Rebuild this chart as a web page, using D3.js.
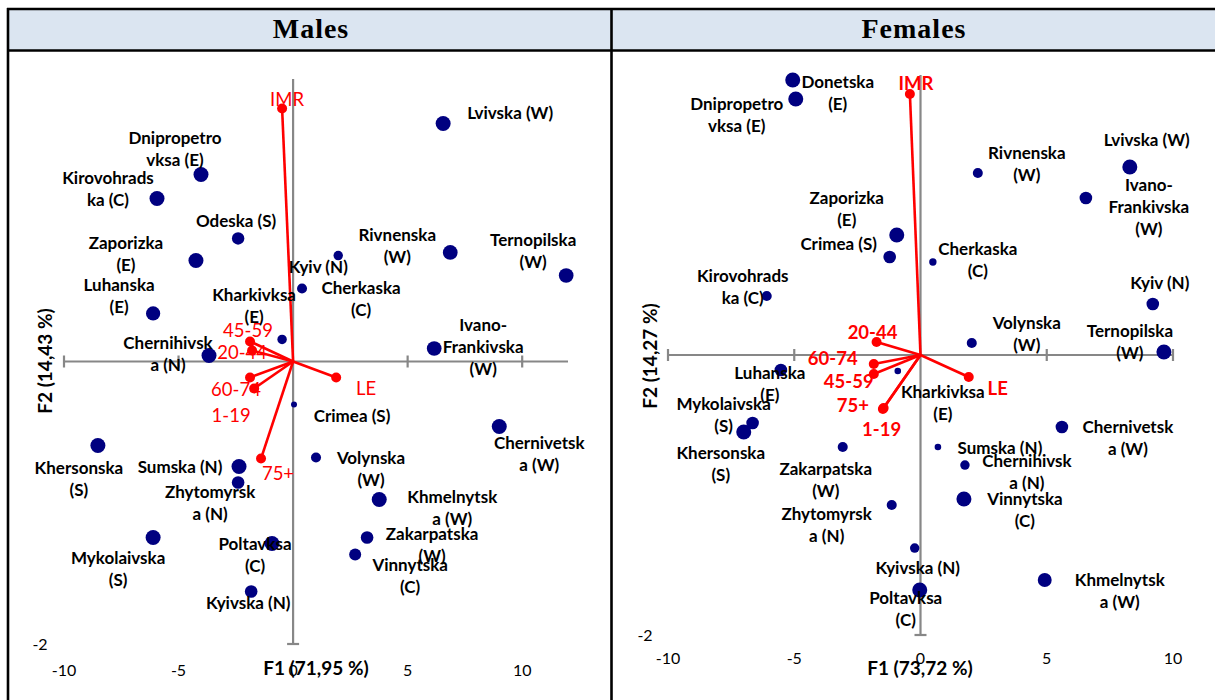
<!DOCTYPE html>
<html><head><meta charset="utf-8">
<script src="https://cdn.jsdelivr.net/npm/d3@7"></script>
<style>body{margin:0;background:#fff}svg{display:block}</style>
</head><body>
<svg id="chart" width="1215" height="700"></svg>
<script>
// ---------------- DATA ----------------
const panelTitles = ["Males", "Females"];
const f1Titles = ["F1 (71,95 %)", "F1 (73,72 %)"];
const f2Titles = ["F2 (14,43 %)", "F2 (14,27 %)"];
const xTickValues = [-10, -5, 0, 5, 10];
const yTickValues = [-2];

// Males – observations ("|" marks the line break of the label)
const maleRegions = ["Lvivska (W)", "Dnipropetro|vksa (E)", "Kirovohrads|ka (C)", "Odeska (S)", "Zaporizka|(E)",
  "Luhanska|(E)", "Kyiv (N)", "Cherkaska|(C)", "Rivnenska|(W)", "Ternopilska|(W)",
  "Kharkivksa|(E)", "Chernihivsk|a (N)", "Ivano-|Frankivska|(W)", "Crimea (S)", "Khersonska|(S)",
  "Sumska (N)", "Zhytomyrsk|a (N)", "Volynska|(W)", "Chernivetsk|a (W)", "Khmelnytsk|a (W)",
  "Zakarpatska|(W)", "Vinnytska|(C)", "Mykolaivska|(S)", "Poltavksa|(C)", "Kyivska (N)"];
const maleF1 = [6.55, -4.02, -5.94, -2.40, -4.24, -6.11, 1.97, 0.39, 6.86, 11.92,
  -0.48, -3.67, 6.16, 0.04, -8.52, -2.36, -2.40, 1.00, 9.00, 3.76,
  3.23, 2.71, -6.11, -0.92, -1.83];
const maleF2 = [1.685, 1.324, 1.154, 0.871, 0.715, 0.340, 0.750, 0.517, 0.772, 0.609,
  0.156, 0.042, 0.092, -0.304, -0.595, -0.743, -0.857, -0.680, -0.460, -0.977,
  -1.246, -1.366, -1.246, -1.288, -1.628];
const maleSize = [1, 1, 1, 0.83, 1, 0.95, 0.63, 0.67, 0.98, 0.98,
  0.63, 1, 0.98, 0.4, 1, 1, 0.84, 0.67, 1, 1,
  0.84, 0.8, 1, 1, 0.84];
// Males – variables (vectors)
const maleVars = ["IMR", "45-59", "20-44", "60-74", "1-19", "75+", "LE"];
const maleVarF1 = [-0.48, -1.88, -1.79, -1.88, -1.70, -1.40, 1.88];
const maleVarF2 = [1.791, 0.142, 0.078, -0.113, -0.191, -0.687, -0.113];

// Females – observations
const femaleRegions = ["Donetska|(E)", "Dnipropetro|vksa (E)", "Rivnenska|(W)", "Lvivska (W)", "Ivano-|Frankivska|(W)",
  "Zaporizka|(E)", "Crimea (S)", "Cherkaska|(C)", "Kyiv (N)", "Kirovohrads|ka (C)",
  "Ternopilska|(W)", "Volynska|(W)", "Luhanska|(E)", "Kharkivksa|(E)", "Mykolaivska|(S)",
  "Khersonska|(S)", "Zakarpatska|(W)", "Zhytomyrsk|a (N)", "Chernivetsk|a (W)", "Sumska (N)",
  "Chernihivsk|a (N)", "Vinnytska|(C)", "Kyivska (N)", "Poltavksa|(C)", "Khmelnytsk|a (W)"];
const femaleF1 = [-5.06, -4.94, 2.27, 8.29, 6.55, -0.94, -1.22, 0.49, 9.20, -6.09,
  9.64, 2.03, -5.53, -0.90, -6.65, -7.00, -3.08, -1.14, 5.60, 0.69,
  1.76, 1.72, -0.23, -0.03, 4.92];
const femaleF2 = [1.964, 1.829, 1.300, 1.343, 1.121, 0.857, 0.700, 0.664, 0.364, 0.421,
  0.021, 0.086, -0.107, -0.114, -0.486, -0.550, -0.657, -1.071, -0.514, -0.657,
  -0.786, -1.029, -1.379, -1.679, -1.607];
const femaleSize = [1, 1, 0.67, 1, 0.84, 1, 0.84, 0.49, 0.84, 0.67,
  1, 0.67, 0.84, 0.44, 0.84, 1, 0.67, 0.67, 0.84, 0.44,
  0.63, 1, 0.63, 1, 0.93];
// Females – variables (vectors)
const femaleVars = ["IMR", "20-44", "60-74", "45-59", "75+", "1-19", "LE"];
const femaleVarF1 = [-0.42, -1.74, -1.85, -1.85, -1.49, -1.46, 1.91];
const femaleVarF2 = [1.864, 0.093, -0.064, -0.136, -0.386, -0.379, -0.157];

// ---------------- LAYOUT (label offsets in px relative to the marker) ----------------
const maleLabelOffset = [[67,-10],[-26,-36],[-49,-20],[-2,-17],[-70,-17],[-34,-28],[-20,11],[59,0],[-53,-17],[-33,-35],
  [-28,-44],[-41,-13],[49,-23],[58,12],[-19,23],[-59,1],[-28,9],[55,0],[40,17],[73,-2],
  [65,-3],[55,11],[-35,21],[-17,1],[-3,12]];
const maleVarOffset = [[5,-9],[-2,-11],[-10,2],[-14,12],[-23,27],[17,15],[30,11]];
const femaleLabelOffset = [[45,2],[-59,5],[49,-20],[17,-27],[63,-13],[-50,-37],[-51,-13],[45,-13],[7,-21],[-24,-20],
  [-34,-21],[55,-20],[-11,3],[45,21],[-29,-19],[-23,21],[-17,22],[-65,9],[66,0],[62,1],
  [62,-4],[61,0],[3,20],[-14,8],[75,0]];
const femaleVarOffset = [[6,-11],[-4,-9],[-41,-5],[-25,7],[-30,-4],[-2,21],[29,12]];

// ---------------- DRAWING ----------------
const svg = d3.select("#chart");
const FONT = "Lato, 'Open Sans', sans-serif";

// table frame
svg.append("rect").attr("x", 8).attr("y", 9).attr("width", 1207).attr("height", 41.5).attr("fill", "#dbe5f1");
const frame = svg.append("g").attr("stroke", "#000").attr("stroke-width", 2.6);
frame.append("line").attr("x1", 7).attr("x2", 1215).attr("y1", 9).attr("y2", 9);
frame.append("line").attr("x1", 7).attr("x2", 1215).attr("y1", 50.5).attr("y2", 50.5);
frame.append("line").attr("x1", 8).attr("x2", 8).attr("y1", 8).attr("y2", 700);
frame.append("line").attr("x1", 611.5).attr("x2", 611.5).attr("y1", 8).attr("y2", 700);

const panels = [
  { title: panelTitles[0], titleX: 311, xDom: [-10, 12], xRange: [64, 568], yRange: [644, 79],
    tickY: 670, yTickX: 40, f1: f1Titles[0], f1X: 316, f2: f2Titles[0], f2X: 45, f2Y: 361,
    names: maleRegions, f1v: maleF1, f2v: maleF2, size: maleSize, off: maleLabelOffset,
    vars: maleVars, vx: maleVarF1, vy: maleVarF2, voff: maleVarOffset, varBold: false },
  { title: panelTitles[1], titleX: 914, xDom: [-10, 10], xRange: [668, 1173], yRange: [635, 75],
    tickY: 658, yTickX: 645, f1: f1Titles[1], f1X: 920, f2: f2Titles[1], f2X: 650, f2Y: 356,
    names: femaleRegions, f1v: femaleF1, f2v: femaleF2, size: femaleSize, off: femaleLabelOffset,
    vars: femaleVars, vx: femaleVarF1, vy: femaleVarF2, voff: femaleVarOffset, varBold: true }
];

const rScale = d3.scaleLinear().domain([0, 1]).range([0, 7.5]);

panels.forEach(p => {
  const g = svg.append("g");
  g.append("text").attr("x", p.titleX).attr("y", 38).attr("text-anchor", "middle")
    .attr("font-family", "'Liberation Serif', 'DejaVu Serif', serif").attr("font-weight", "bold")
    .attr("font-size", 28).attr("letter-spacing", 1).attr("fill", "#000").text(p.title);

  const x = d3.scaleLinear().domain(p.xDom).range(p.xRange);
  const y = d3.scaleLinear().domain([-2, 2]).range(p.yRange);

  // axes
  const ax = g.append("g").attr("stroke", "#878787").attr("stroke-width", 2.2).attr("fill", "none");
  ax.append("line").attr("x1", x(p.xDom[0])).attr("x2", x(p.xDom[1])).attr("y1", y(0)).attr("y2", y(0));
  ax.selectAll(".xt").data(xTickValues.filter(v => v !== 0)).join("line")
    .attr("x1", d => x(d)).attr("x2", d => x(d)).attr("y1", y(0) - 6).attr("y2", y(0) + 6);
  ax.append("line").attr("x1", x(0)).attr("x2", x(0)).attr("y1", y(-2)).attr("y2", y(2));
  ax.selectAll(".yt").data(yTickValues).join("line")
    .attr("x1", x(0) - 6).attr("x2", x(0) + 6).attr("y1", d => y(d)).attr("y2", d => y(d));

  // tick labels
  g.selectAll(".xl").data(xTickValues).join("text")
    .attr("x", d => x(d)).attr("y", p.tickY).attr("dy", "0.35em").attr("text-anchor", "middle")
    .attr("font-family", FONT).attr("font-size", 16).attr("fill", "#000").text(d => d);
  g.selectAll(".yl").data(yTickValues).join("text")
    .attr("x", p.yTickX).attr("y", d => y(d)).attr("dy", "0.35em").attr("text-anchor", "middle")
    .attr("font-family", FONT).attr("font-size", 16).attr("fill", "#000").text(d => d);

  // axis titles
  g.append("text").attr("x", p.f1X).attr("y", 668).attr("dy", "0.35em").attr("text-anchor", "middle")
    .attr("font-family", FONT).attr("font-weight", "bold").attr("font-size", 19).attr("fill", "#000").text(p.f1);
  g.append("text").attr("transform", `translate(${p.f2X},${p.f2Y}) rotate(-90)`).attr("dy", "0.35em")
    .attr("text-anchor", "middle").attr("font-family", FONT).attr("font-weight", "bold").attr("font-size", 19)
    .attr("fill", "#000").text(p.f2);

  // observations
  const obs = p.names.map((n, i) => ({ name: n, f1: p.f1v[i], f2: p.f2v[i], s: p.size[i], off: p.off[i] }));
  g.selectAll(".dot").data(obs).join("circle")
    .attr("cx", d => x(d.f1)).attr("cy", d => y(d.f2)).attr("r", d => rScale(d.s)).attr("fill", "#000080");

  // vectors
  const vec = p.vars.map((n, i) => ({ name: n, f1: p.vx[i], f2: p.vy[i], off: p.voff[i] }));
  g.selectAll(".vl").data(vec).join("line")
    .attr("x1", x(0)).attr("y1", y(0)).attr("x2", d => x(d.f1)).attr("y2", d => y(d.f2))
    .attr("stroke", "#ff0000").attr("stroke-width", 2.6);
  g.selectAll(".vd").data(vec).join("circle")
    .attr("cx", d => x(d.f1)).attr("cy", d => y(d.f2)).attr("r", 5).attr("fill", "#ff0000");
  g.selectAll(".vt").data(vec).join("text")
    .attr("x", d => x(d.f1) + d.off[0]).attr("y", d => y(d.f2) + d.off[1]).attr("dy", "0.35em")
    .attr("text-anchor", "middle").attr("font-family", FONT).attr("font-size", 18.5)
    .attr("font-weight", p.varBold ? "bold" : "normal").attr("fill", "#ff0000").text(d => d.name);

  // observation labels
  const lt = g.selectAll(".ol").data(obs).join("text")
    .attr("text-anchor", "middle").attr("font-family", FONT).attr("font-weight", "bold")
    .attr("font-size", 17).attr("fill", "#000");
  lt.each(function(d) {
    const t = d3.select(this);
    const cx = x(d.f1) + d.off[0], cy = y(d.f2) + d.off[1];
    d.name.split("|").forEach((line, k) => {
      t.append("tspan").attr("x", cx).attr("y", cy + k * 22).attr("dy", "0.35em").text(line);
    });
  });
});
</script>
</body></html>
